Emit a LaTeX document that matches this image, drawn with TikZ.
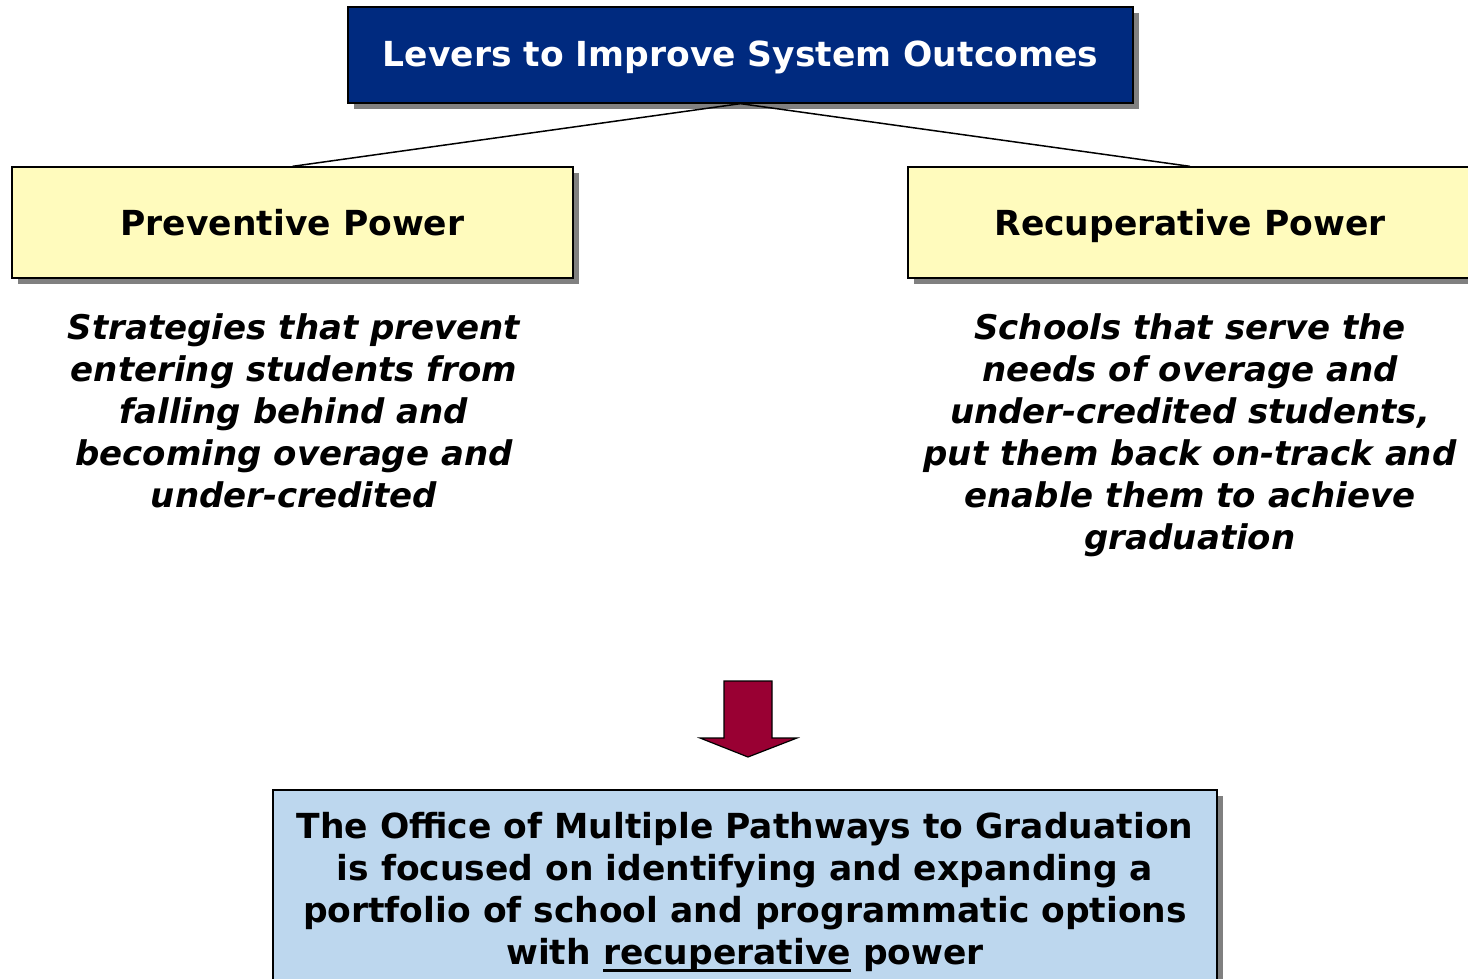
\documentclass[tikz,border=0pt]{standalone}
\usepackage{fontspec}
\setmainfont{DejaVu Sans}
\usetikzlibrary{shadows}
\definecolor{navy}{RGB}{0,42,127}
\definecolor{paleyellow}{RGB}{255,251,189}
\definecolor{paleblue}{RGB}{189,215,238}
\definecolor{wine}{RGB}{153,0,51}
\definecolor{shadowgray}{RGB}{128,128,128}
\newcommand{\thickul}[1]{\setbox0\hbox{#1}\rlap{\rule[-7pt]{\wd0}{2.5pt}}\box0\relax}
\tikzset{
  boxshadow/.style={drop shadow={shadow xshift=6pt, shadow yshift=-6pt, fill=shadowgray, opacity=1}},
  box/.style={draw=black, line width=1.3pt, rectangle, inner sep=0pt, boxshadow},
  bigtext/.style={font=\bfseries\fontsize{34.5}{42}\selectfont},
  ittext/.style={font=\bfseries\itshape\fontsize{34}{42}\selectfont, align=center},
  link/.style={draw=black, line width=1.5pt}
}
\begin{document}
\begin{tikzpicture}[x=1pt,y=-1pt]
\useasboundingbox (0,0) rectangle (1468,979);
\node[box, fill=navy, text=white, bigtext, text height=24pt, text depth=0pt, minimum width=785pt, minimum height=96pt] (top) at (740.5,55) {Levers to Improve System Outcomes};
\node[box, fill=paleyellow, bigtext, text height=27pt, text depth=0pt, minimum width=561pt, minimum height=111pt] (left) at (292.5,222.5) {Preventive Power};
\node[box, fill=paleyellow, bigtext, text height=27pt, text depth=0pt, minimum width=564pt, minimum height=111pt] (right) at (1190,222.5) {Recuperative Power};
\draw[link] (top.south) -- (left.north);
\draw[link] (top.south) -- (right.north);
\node[ittext] (ltext) at (294,411) {Strategies that prevent\\entering students from\\falling behind and\\becoming overage and\\under-credited};
\node[ittext] (rtext) at (1190,435) {Schools that serve the\\needs of overage and\\under-credited students,\\put them back on-track and\\enable them to achieve\\graduation};
\draw[fill=wine, draw=black, line width=1.2pt, line join=miter] (724,681) -- (772,681) -- (772,738) -- (797,738) -- (748,757) -- (700,738) -- (724,738) -- cycle;
\node[box, fill=paleblue, bigtext, align=center, minimum width=944pt, minimum height=204pt] (bottom) at (745,892) {The Office of Multiple Pathways to Graduation\\is focused on identifying and expanding a\\portfolio of school and programmatic options\\with \thickul{recuperative} power};
\end{tikzpicture}
\end{document}
